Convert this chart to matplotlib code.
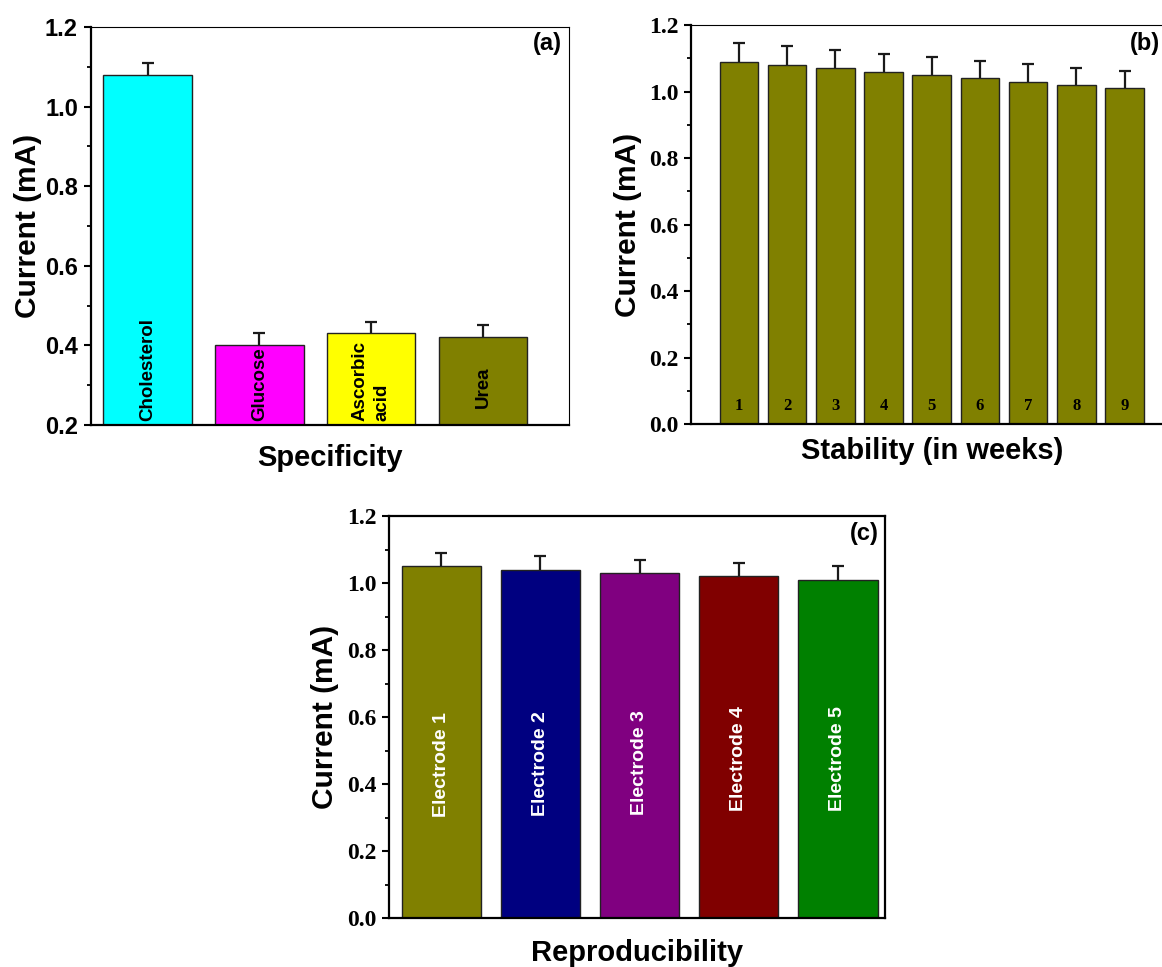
import matplotlib
matplotlib.use("Agg")
import matplotlib.pyplot as plt
from matplotlib.ticker import MultipleLocator
import numpy as np

# ---------------- data ----------------
spec_cats = ['Cholesterol', 'Glucose', 'Ascorbic\nacid', 'Urea']
spec_vals = [1.08, 0.40, 0.43, 0.42]
spec_err = [0.03, 0.03, 0.03, 0.03]
spec_colors = ['#00FFFF', '#FF00FF', '#FFFF00', '#808000']

weeks = ['1', '2', '3', '4', '5', '6', '7', '8', '9']
stab_vals = [1.09, 1.08, 1.07, 1.06, 1.05, 1.04, 1.03, 1.02, 1.01]
stab_err = [0.056, 0.056, 0.054, 0.054, 0.053, 0.052, 0.052, 0.051, 0.051]

electrodes = ['Electrode 1', 'Electrode 2', 'Electrode 3', 'Electrode 4', 'Electrode 5']
rep_vals = [1.05, 1.04, 1.03, 1.02, 1.01]
rep_err = [0.04, 0.04, 0.04, 0.04, 0.04]
rep_colors = ['#808000', '#000080', '#800080', '#800000', '#008000']

SANS = 'Liberation Sans'
SERIF = 'Liberation Serif'

W, H = 1162, 967
fig = plt.figure(figsize=(W / 100, H / 100), dpi=100)


def px_axes(left, right, top, bottom):
    return fig.add_axes([left / W, 1 - bottom / H, (right - left) / W, (bottom - top) / H])


def style_axes(ax, tick_family, thick_all=False):
    for s in ['left', 'bottom']:
        ax.spines[s].set_linewidth(1.6)
    for s in ['top', 'right']:
        ax.spines[s].set_linewidth(1.6 if thick_all else 0.8)
    for sp in ax.spines.values():
        sp.set_color('black')
    ax.set_xticks([])
    ax.yaxis.set_major_locator(MultipleLocator(0.2))
    ax.yaxis.set_minor_locator(MultipleLocator(0.1))
    ax.tick_params(axis='y', which='major', direction='out', length=5, width=1.5, pad=4)
    ax.tick_params(axis='y', which='minor', direction='out', length=3, width=1.3)
    ax.tick_params(axis='y', which='both', right=False)
    ax.yaxis.set_major_formatter(matplotlib.ticker.FormatStrFormatter('%.1f'))
    for lab in ax.get_yticklabels():
        lab.set_fontfamily(tick_family)
        lab.set_fontweight('bold')
        lab.set_fontsize(17)
    ax.set_ylabel('Current (mA)', fontsize=21.5, fontweight='bold', family=SANS)
    ax.yaxis.set_label_coords(-0.101, 0.5)


def errbars(ax, x, vals, err):
    eb = ax.errorbar(x, vals, yerr=[np.zeros(len(err)), err], fmt='none', ecolor='#1a1a1a',
                     elinewidth=1.6, capsize=4.3, capthick=1.6, zorder=3)
    # hide the lower caps (reference shows only upper caps)
    caps = eb[1]
    for cap in caps:
        if np.allclose(cap.get_ydata(), vals):
            cap.set_visible(False)


# ---------------- (a) Specificity ----------------
axa = px_axes(90.5, 569.3, 27, 425)
xa = np.arange(1, len(spec_vals) + 1)
axa.bar(xa, spec_vals, width=0.79, color=spec_colors, edgecolor='#222222', linewidth=1.0, zorder=2)
errbars(axa, xa, spec_vals, spec_err)
axa.set_xlim(0.49, 4.77)
axa.set_ylim(0.2, 1.2)
style_axes(axa, SANS)
label_y = [0.21, 0.21, 0.21, 0.243]
for xi, name, ly in zip(xa, spec_cats, label_y):
    axa.text(xi, ly, name, rotation=90, ha='center', va='bottom', fontsize=13.5,
             fontweight='bold', family=SANS, color='black', linespacing=1.35,
             multialignment='left', zorder=4)
axa.set_xlabel('Specificity', fontsize=21, fontweight='bold', family=SANS)
axa.xaxis.set_label_coords(0.5, -0.048)
axa.text(0.985, 0.987, '(a)', transform=axa.transAxes, ha='right', va='top',
         fontsize=17, fontweight='bold', family=SANS)

# ---------------- (b) Stability ----------------
axb = px_axes(690.8, 1172.7, 25, 424.3)
xb = np.arange(1, len(stab_vals) + 1)
axb.bar(xb, stab_vals, width=0.8, color='#808000', edgecolor='#222222', linewidth=1.0, zorder=2)
errbars(axb, xb, stab_vals, stab_err)
axb.set_xlim(0, 10)
axb.set_ylim(0, 1.2)
style_axes(axb, SERIF)
for xi, w in zip(xb, weeks):
    axb.text(xi, 0.042, w, ha='center', va='baseline', fontsize=12, fontweight='bold',
             family=SERIF, color='black', zorder=4)
axb.set_xlabel('Stability (in weeks)', fontsize=21, fontweight='bold', family=SANS)
axb.xaxis.set_label_coords(0.5, -0.033)
axb.text(0.9737, 0.9825, '(b)', transform=axb.transAxes, ha='right', va='top',
         fontsize=17, fontweight='bold', family=SANS)

# ---------------- (c) Reproducibility ----------------
axc = px_axes(389.2, 884.6, 516, 918.3)
xc = np.arange(1, len(rep_vals) + 1)
axc.bar(xc, rep_vals, width=0.8, color=rep_colors, edgecolor='#222222', linewidth=1.0, zorder=2)
errbars(axc, xc, rep_vals, rep_err)
axc.set_xlim(0.475, 5.47)
axc.set_ylim(0, 1.2)
style_axes(axc, SERIF, thick_all=True)
label_yc = [0.46, 0.46, 0.465, 0.475, 0.475]
for xi, name, ly in zip(xc, electrodes, label_yc):
    axc.text(xi, ly, name, rotation=90, ha='center', va='center', fontsize=14,
             fontweight='bold', family=SANS, color='white', zorder=4)
axc.set_xlabel('Reproducibility', fontsize=21, fontweight='bold', family=SANS)
axc.xaxis.set_label_coords(0.5, -0.052)
axc.text(0.988, 0.985, '(c)', transform=axc.transAxes, ha='right', va='top',
         fontsize=17, fontweight='bold', family=SANS)

fig.savefig('out.png', dpi=100)
